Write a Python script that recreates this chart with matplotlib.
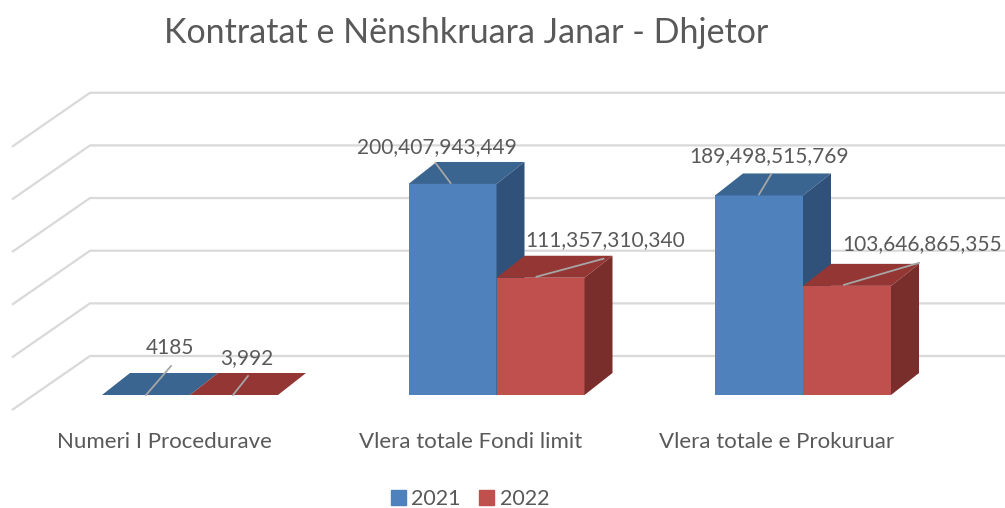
import matplotlib.pyplot as plt
from matplotlib.patches import Polygon, Patch

categories = ["Numeri I Procedurave", "Vlera totale Fondi limit", "Vlera totale e Prokuruar"]
years = ["2021", "2022"]
values_2021 = [4185, 200407943449, 189498515769]
values_2022 = [3992, 111357310340, 103646865355]
labels_2021 = ["4185", "200,407,943,449", "189,498,515,769"]
labels_2022 = ["3,992", "111,357,310,340", "103,646,865,355"]

plt.rcParams['font.family'] = ['Lato', 'DejaVu Sans']
TXT = '#595959'
GRID = '#d9d9d9'
# front, top, side shades
BLUE = ('#4f81bd', '#3b6591', '#30527a')
RED = ('#c0504d', '#943634', '#7a2e2c')

# pixel scale of the fake 3d view
XU = 306.5          # px per category
YU = 1.053          # px per billion
def px(d):
    return d / XU
def py(d):
    return d / YU

fig = plt.figure(figsize=(10.05, 5.08), dpi=100)
ax = fig.add_axes([0, 0, 1, 1])
ax.set_xlim(-190 / XU, (1005 - 190) / XU)
ax.set_ylim(-(508 - 395) / YU, 395 / YU)
ax.axis('off')

W = px(88)
DX, DY = px(28), py(22)

# gridlines: floor diagonal then back wall
FX, BX = px(12 - 190), px(90 - 190)
F, B = py(-15), py(39)
for v in range(0, 300, 50):
    ax.plot([FX, BX, ax.get_xlim()[1]], [v + F, v + B, v + B],
            color=GRID, lw=1.6, zorder=0, solid_capstyle='butt')

def bar3d(x0, h, cols):
    ax.bar(x0, h, width=W, align='edge', color=cols[0], lw=0, zorder=2)
    ax.add_patch(Polygon([(x0, h), (x0 + W, h), (x0 + W + DX, h + DY), (x0 + DX, h + DY)],
                         closed=True, color=cols[1], lw=0, zorder=2))
    if h > 0:
        ax.add_patch(Polygon([(x0 + W, 0), (x0 + W + DX, DY), (x0 + W + DX, h + DY), (x0 + W, h)],
                             closed=True, color=cols[2], lw=0, zorder=2))

# label placement per bar: leader start, leader end, text center (px offsets from bar front center/top)
lead_2021 = [((0, 0), (25, 29), (24, 47)), ((-2, 1), (-17, 21), (-16, 37)), ((0, 1), (12, 21), (10, 39))]
lead_2022 = [((-1, 0), (14, 19), (13, 37)), ((-4, 1), (63, 19), (65, 38)), ((-3, 1), (72, 23), (75, 42))]

for i in range(len(categories)):
    for vals, labs, leads, cols, x0 in ((values_2021, labels_2021, lead_2021, BLUE, i - W),
                                        (values_2022, labels_2022, lead_2022, RED, i)):
        h = vals[i] / 1e9
        bar3d(x0, h, cols)
        c = x0 + W / 2
        (sx, sy), (ex, ey), (tx, ty) = leads[i]
        ax.plot([c + px(sx), c + px(ex)], [h + py(sy), h + py(ey)], color='#a6a6a6', lw=1.3, zorder=3)
        ax.text(c + px(tx), h + py(ty), labs[i], ha='center', va='center',
                fontsize=15, color=TXT, zorder=4)
    ax.text(i - px(26), py(-47), categories[i], ha='center', va='center', fontsize=16, color=TXT)

fig.text(466 / 1005, 1 - 33 / 508, "Kontratat e Nënshkruara Janar - Dhjetor",
         ha='center', va='center', fontsize=24.5, color=TXT)

fig.legend(handles=[Patch(color=BLUE[0]), Patch(color=RED[0])], labels=years,
           loc='center', bbox_to_anchor=(470 / 1005, 1 - 499 / 508), ncol=2, frameon=False,
           fontsize=15.5, labelcolor=TXT, handlelength=0.7, handleheight=0.7,
           handletextpad=0.25, columnspacing=0.85)

fig.savefig('out.png', dpi=100)
